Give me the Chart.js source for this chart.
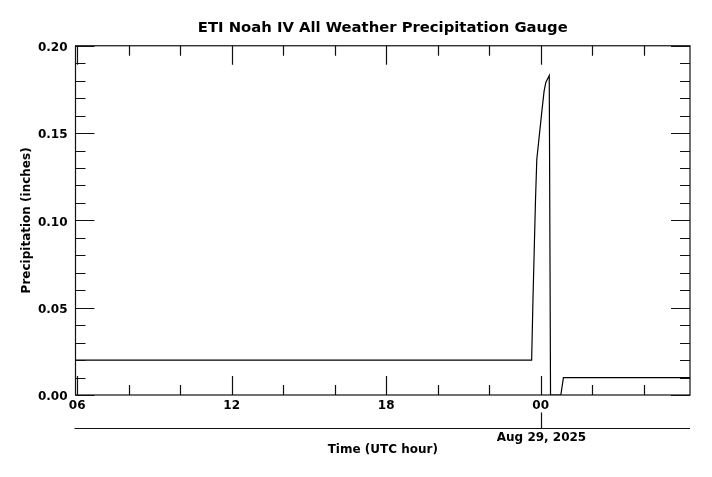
<!DOCTYPE html>
<html>
<head>
<meta charset="utf-8">
<script src="https://cdn.jsdelivr.net/npm/chart.js@4/dist/chart.umd.min.js"></script>
<style>
    body { margin: 0; background: #fff; }
    canvas { display: block; }
</style>
</head>
<body>
<canvas id="precip-chart" width="712" height="477"></canvas>
<script>
// Readings (UTC) and gauge values in inches
const readingTimes = [
    '2025-08-28 05:56', '2025-08-28 23:39', '2025-08-28 23:42', '2025-08-28 23:45',
    '2025-08-28 23:48', '2025-08-28 23:51', '2025-08-28 23:57', '2025-08-29 00:03',
    '2025-08-29 00:08', '2025-08-29 00:12', '2025-08-29 00:16', '2025-08-29 00:20',
    '2025-08-29 00:23', '2025-08-29 00:47', '2025-08-29 00:53', '2025-08-29 05:48'
];
const precipInches = [
    0.020, 0.020, 0.054, 0.083,
    0.112, 0.135, 0.149, 0.163,
    0.174, 0.179, 0.181, 0.183,
    0.000, 0.000, 0.010, 0.010
];

const axisStart = '2025-08-28 05:56';
const axisEnd = '2025-08-29 05:48';
const hourTickTimes = ['2025-08-28 06:00', '2025-08-28 12:00', '2025-08-28 18:00', '2025-08-29 00:00'];
const hourTickLabels = ['06', '12', '18', '00'];
const dateTickTime = '2025-08-29 00:00';
const dateTickLabel = 'Aug 29, 2025';
const yTicks = [0, 0.05, 0.10, 0.15, 0.20];

const baseTime = Date.parse('2025-08-28T06:00:00Z');
function hoursOf(s) {
    return (Date.parse(s.replace(' ', 'T') + ':00Z') - baseTime) / 3.6e6;
}

const boldFont = { family: 'DejaVu Sans', size: 12, weight: 'bold' };

// inward ticks on all four sides, the frame, and the date axis underneath
const frameTicks = {
    id: 'frameTicks',
    afterDraw(chart) {
        const { ctx, chartArea: a, scales: { x, y } } = chart;
        ctx.save();
        ctx.strokeStyle = '#111';
        ctx.lineWidth = 1.2;
        ctx.strokeRect(a.left, a.top, a.right - a.left, a.bottom - a.top);

        ctx.beginPath();
        for (let h = 0; h <= x.max; h += 2) {
            const px = Math.round(x.getPixelForValue(h)) + 0.5;
            const len = h % 6 === 0 ? 19 : 10;
            ctx.moveTo(px, a.bottom); ctx.lineTo(px, a.bottom - len);
            ctx.moveTo(px, a.top); ctx.lineTo(px, a.top + len);
        }
        for (let i = 0; i <= 20; i++) {
            const py = Math.round(y.getPixelForValue(i / 100)) + 0.5;
            const len = i % 5 === 0 ? 19 : 10;
            ctx.moveTo(a.left, py); ctx.lineTo(a.left + len, py);
            ctx.moveTo(a.right, py); ctx.lineTo(a.right - len, py);
        }
        ctx.stroke();

        const lineY = a.bottom + 33.5;
        const dx = Math.round(x.getPixelForValue(hoursOf(dateTickTime))) + 0.5;
        ctx.beginPath();
        ctx.moveTo(a.left - 1, lineY); ctx.lineTo(a.right, lineY);
        ctx.moveTo(dx, lineY); ctx.lineTo(dx, lineY - 16);
        ctx.stroke();

        ctx.fillStyle = '#000';
        ctx.font = 'bold 12px "DejaVu Sans"';
        ctx.textAlign = 'center';
        ctx.textBaseline = 'top';
        ctx.fillText(dateTickLabel, dx, lineY + 3);
        ctx.restore();
    }
};

new Chart(document.getElementById('precip-chart'), {
    type: 'line',
    data: {
        datasets: [{
            data: readingTimes.map((t, i) => ({ x: hoursOf(t), y: precipInches[i] })),
            borderColor: '#000',
            borderWidth: 1.2,
            pointRadius: 0,
            tension: 0,
            fill: false
        }]
    },
    options: {
        responsive: false,
        animation: false,
        devicePixelRatio: 1,
        layout: { padding: { left: 0, right: 22, top: 0, bottom: 0 } },
        plugins: {
            legend: { display: false },
            tooltip: { enabled: false },
            title: {
                display: true,
                fullSize: false,
                text: 'ETI Noah IV All Weather Precipitation Gauge',
                color: '#000',
                font: { family: 'DejaVu Sans', size: 14.8, weight: 'bold' },
                padding: { top: 19, bottom: 9 }
            }
        },
        scales: {
            x: {
                type: 'linear',
                min: hoursOf(axisStart),
                max: hoursOf(axisEnd),
                grid: { display: false, drawTicks: false },
                border: { display: false },
                afterBuildTicks: s => { s.ticks = hourTickTimes.map(t => ({ value: hoursOf(t) })); },
                afterFit: s => { s.height = 82; },
                ticks: {
                    color: '#000',
                    font: boldFont,
                    padding: 4,
                    maxRotation: 0,
                    autoSkip: false,
                    callback: (v, i) => hourTickLabels[i]
                },
                title: {
                    display: true,
                    text: 'Time (UTC hour)',
                    color: '#000',
                    font: boldFont,
                    padding: { top: 0, bottom: 20 }
                }
            },
            y: {
                min: 0,
                max: 0.2,
                grid: { display: false, drawTicks: false },
                border: { display: false },
                afterBuildTicks: s => { s.ticks = yTicks.map(v => ({ value: v })); },
                afterFit: s => { s.width = 75.5; },
                ticks: {
                    color: '#000',
                    font: boldFont,
                    padding: 8,
                    labelOffset: 2,
                    callback: v => v.toFixed(2)
                },
                title: {
                    display: true,
                    text: 'Precipitation (inches)',
                    color: '#000',
                    font: boldFont,
                    padding: { top: 20, bottom: 0 }
                }
            }
        }
    },
    plugins: [frameTicks]
});
</script>
</body>
</html>
